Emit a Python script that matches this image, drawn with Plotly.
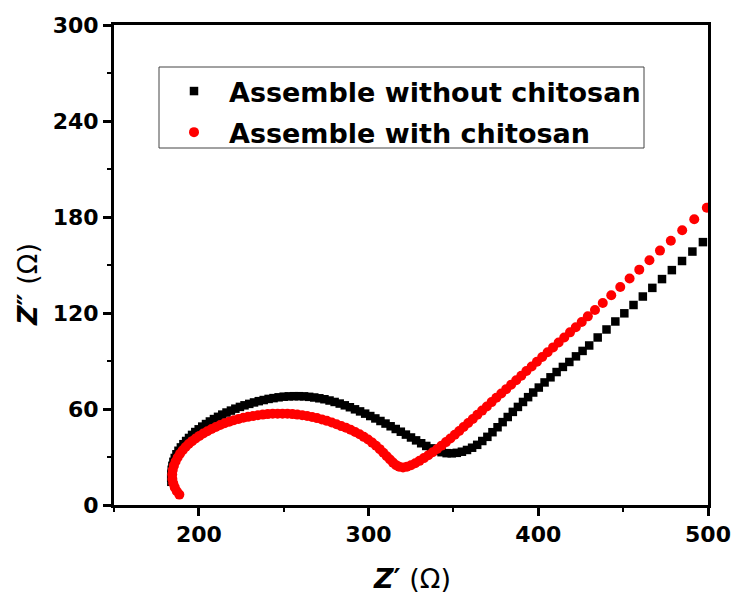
import plotly.graph_objects as go

# ---- data: Z' (ohm), Z'' (ohm) ----
without_zre = [
    183.8, 183.7, 183.8, 184.0, 184.4, 185.0, 185.8, 186.8, 188.0, 189.4,
    190.9, 192.5, 194.2, 196.0, 197.9, 199.9, 202.0, 204.2, 206.5, 208.9,
    211.3, 213.8, 216.3, 218.9, 221.5, 224.2, 226.9, 229.7, 232.5, 235.3,
    238.2, 241.1, 244.0, 247.0, 250.0, 253.0, 256.0, 259.0, 262.0, 265.0,
    268.0, 271.0, 274.0, 277.0, 280.0, 283.0, 286.0, 289.0, 292.0, 295.0,
    298.0, 301.0, 304.0, 307.0, 310.0, 313.0, 316.0, 319.0, 322.0, 325.0,
    328.0, 331.0, 334.0, 337.0, 340.0, 343.0, 346.0, 349.0, 352.0, 355.0,
    358.0, 361.0, 364.0, 367.0, 370.0, 373.0, 376.0, 379.0, 382.0, 385.0,
    388.0, 391.0, 394.0, 397.0, 400.3, 403.7, 407.2, 410.8, 414.5, 418.3,
    422.2, 426.1, 430.0, 435.0, 440.2, 445.4, 450.7, 456.1, 461.6, 467.2,
    472.9, 478.7, 484.7, 490.8, 497.0,
]
without_zim = [
    14.5, 17.0, 19.5, 22.0, 24.5, 27.0, 29.4, 31.7, 33.9, 36.0,
    38.0, 40.0, 41.9, 43.8, 45.6, 47.3, 49.0, 50.6, 52.2, 53.7,
    55.1, 56.5, 57.8, 59.0, 60.2, 61.3, 62.3, 63.2, 64.1, 64.9,
    65.6, 66.3, 66.8, 67.3, 67.7, 67.9, 68.0, 68.0, 67.9, 67.6,
    67.2, 66.7, 66.1, 65.3, 64.4, 63.4, 62.3, 61.1, 59.8, 58.5,
    57.1, 55.6, 54.1, 52.5, 50.9, 49.2, 47.5, 45.8, 44.0, 42.2,
    40.4, 38.6, 36.9, 35.4, 34.0, 33.0, 32.4, 32.3, 32.6, 33.3,
    34.4, 35.8, 37.6, 40.0, 42.6, 45.5, 48.6, 51.8, 55.0, 58.2,
    61.3, 64.4, 67.4, 70.3, 73.4, 76.6, 79.8, 83.1, 86.3, 89.4,
    92.9, 96.3, 99.7, 104.7, 109.7, 114.7, 119.8, 125.0, 130.3, 135.7,
    141.2, 146.8, 152.5, 158.4, 164.3,
]

with_zre = [
    188.5, 187.0, 185.8, 184.9, 184.4, 184.3, 184.6, 185.3, 186.3, 187.5,
    188.9, 190.5, 192.2, 194.0, 196.0, 198.1, 200.3, 202.6, 205.0, 207.5,
    210.0, 212.6, 215.2, 217.9, 220.6, 223.4, 226.2, 229.0, 231.9, 234.8,
    237.7, 240.6, 243.5, 246.4, 249.3, 252.2, 255.1, 258.0, 260.9, 263.8,
    266.7, 269.6, 272.5, 275.4, 278.3, 281.1, 283.9, 286.7, 289.4, 292.1,
    294.7, 297.2, 299.7, 302.1, 304.4, 306.6, 308.7, 310.7, 312.6, 314.4,
    316.2, 318.0, 320.3, 322.6, 325.0, 327.5, 330.0, 332.6, 335.2, 337.8,
    340.4, 343.0, 345.6, 348.2, 350.8, 353.4, 356.0, 358.7, 361.4, 364.1,
    366.9, 369.7, 372.5, 375.3, 378.2, 381.1, 384.0, 387.0, 390.0, 393.0,
    396.1, 399.2, 402.3, 405.5, 408.7, 412.0, 415.3, 418.7, 422.1, 425.6,
    429.2, 433.4, 438.0, 443.0, 448.3, 453.8, 459.5, 465.5, 471.7, 478.1,
    484.8, 491.9, 499.3,
]
with_zim = [
    6.5, 8.6, 11.0, 13.6, 16.3, 19.1, 21.9, 24.6, 27.2, 29.7,
    32.0, 34.2, 36.2, 38.1, 39.9, 41.6, 43.2, 44.7, 46.1, 47.5,
    48.8, 50.0, 51.1, 52.1, 53.0, 53.8, 54.5, 55.1, 55.6, 56.1,
    56.5, 56.8, 57.0, 57.1, 57.1, 57.0, 56.8, 56.5, 56.1, 55.6,
    55.0, 54.3, 53.5, 52.6, 51.6, 50.5, 49.3, 48.3, 47.0, 45.6,
    44.2, 42.6, 40.9, 39.0, 37.0, 34.9, 32.7, 30.5, 28.4, 26.5,
    24.9, 23.9, 23.5, 23.9, 24.8, 26.1, 27.6, 29.3, 31.1, 33.0,
    35.0, 37.1, 39.3, 41.6, 43.9, 46.3, 48.8, 51.3, 53.8, 56.4,
    59.0, 61.6, 64.3, 67.0, 69.7, 72.4, 75.2, 78.0, 80.8, 83.7,
    86.6, 89.5, 92.5, 95.5, 98.5, 101.6, 104.7, 107.9, 111.1, 114.4,
    117.9, 121.9, 126.2, 131.1, 136.2, 141.6, 147.1, 153.0, 159.0, 165.2,
    171.7, 178.6, 185.8,
]

series_names = ["Assemble without chitosan", "Assemble with chitosan"]

x_ticks = [200, 300, 400, 500]
y_ticks = [0, 60, 120, 180, 240, 300]

FONT = "DejaVu Sans"

# plot area in pixels (from the reference)
L, R, T, B = 114, 708, 25, 505
W, H = 734, 601
PW, PH = R - L, B - T


def px_x(p):
    return (p - L) / PW


def px_y(p):
    return (B - p) / PH


fig = go.Figure()
fig.add_trace(go.Scatter(
    x=without_zre, y=without_zim, mode="markers", name=series_names[0],
    legendgroup="a",
    marker=dict(symbol="square", size=8.5, color="black", line=dict(width=0)),
))
fig.add_trace(go.Scatter(
    x=with_zre, y=with_zim, mode="markers", name=series_names[1],
    legendgroup="b",
    marker=dict(symbol="circle", size=10, color="#ff0000", line=dict(width=0)),
))

axis_common = dict(
    showgrid=False, zeroline=False, automargin=False,
    showline=True, linewidth=3, linecolor="black", mirror=True,
    ticks="outside", ticklen=8, tickwidth=3, tickcolor="black",
    tickfont=dict(family=FONT, size=22, color="black", weight="bold"),
)

fig.update_xaxes(
    range=[150, 500], tickvals=x_ticks, ticktext=[str(v) for v in x_ticks],
    minor=dict(ticks="outside", ticklen=4, tickwidth=2, tickcolor="black", dtick=50, tick0=150),
    **axis_common,
)
fig.update_yaxes(
    range=[0, 300], tickvals=y_ticks, ticktext=[str(v) for v in y_ticks],
    minor=dict(ticks="outside", ticklen=4, tickwidth=2, tickcolor="black", dtick=30, tick0=0),
    **axis_common,
)

fig.update_layout(
    width=W, height=H,
    margin=dict(l=L, r=W - R, t=T, b=H - B, autoexpand=False),
    paper_bgcolor="white", plot_bgcolor="white",
    showlegend=True,
    legend=dict(
        x=px_x(159), y=px_y(67), xanchor="left", yanchor="top",
        bgcolor="rgba(0,0,0,0)", borderwidth=0,
        font=dict(family=FONT, size=27, color="black", weight="bold"),
        itemwidth=60, traceorder="grouped", tracegroupgap=3,
    ),
    shapes=[
        dict(type="rect", xref="paper", yref="paper",
             x0=px_x(159), x1=px_x(644), y0=px_y(148), y1=px_y(67),
             line=dict(color="#444444", width=1), fillcolor="white", layer="below"),
    ],
    annotations=[
        dict(text="<b><i>Z</i>′</b> (Ω)", xref="paper", yref="paper",
             x=px_x(412), y=px_y(578), xanchor="center", yanchor="middle", showarrow=False,
             font=dict(family=FONT, size=27, color="black")),
        dict(text="<b><i>Z</i>″</b> (Ω)", xref="paper", yref="paper",
             x=px_x(27), y=px_y(285), xanchor="center", yanchor="middle", showarrow=False,
             textangle=-90,
             font=dict(family=FONT, size=27, color="black")),
    ],
)

fig.write_html("out.html")
